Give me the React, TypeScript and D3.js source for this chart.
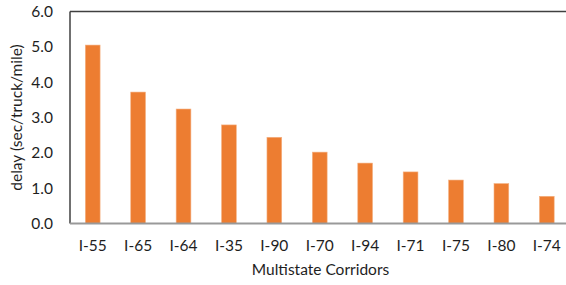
import * as d3 from "d3";
import { useEffect, useRef } from "react";

const corridors = ["I-55", "I-65", "I-64", "I-35", "I-90", "I-70", "I-94", "I-71", "I-75", "I-80", "I-74"];
const delays = [5.05, 3.72, 3.24, 2.79, 2.44, 2.02, 1.71, 1.46, 1.23, 1.13, 0.77];
const yTicks = [0, 1, 2, 3, 4, 5, 6];

export default function App() {
  const ref = useRef<SVGSVGElement | null>(null);

  useEffect(() => {
    if (!ref.current) return;
    const width = 566;
    const height = 285;
    const margin = { top: 11.5, right: -3.5, bottom: 61.5, left: 70 };
    const font = "Lato, sans-serif";
    const fontSize = 15.5;
    const textColor = "#1e1e1e";

    const svg = d3.select(ref.current);
    svg.selectAll("*").remove();

    const x = d3
      .scaleBand()
      .domain(corridors)
      .range([margin.left, width - margin.right])
      .paddingInner(0.675)
      .paddingOuter(0.3375);

    const y = d3
      .scaleLinear()
      .domain([0, 6])
      .range([height - margin.bottom, margin.top]);

    // bars
    svg
      .append("g")
      .selectAll("rect")
      .data(delays)
      .join("rect")
      .attr("x", (_, i) => x(corridors[i])!)
      .attr("y", (d) => y(d))
      .attr("width", x.bandwidth())
      .attr("height", (d) => y(0) - y(d))
      .attr("fill", "#ED7D31")
      .attr("stroke", "#F4B183")
      .attr("stroke-width", 0.6);

    // frame: top + left dark, bottom grey
    svg
      .append("line")
      .attr("x1", margin.left)
      .attr("x2", width)
      .attr("y1", y(6))
      .attr("y2", y(6))
      .attr("stroke", "#404040")
      .attr("stroke-width", 1.5);
    svg
      .append("line")
      .attr("x1", margin.left)
      .attr("x2", margin.left)
      .attr("y1", y(6))
      .attr("y2", y(0))
      .attr("stroke", "#404040")
      .attr("stroke-width", 1.5);
    svg
      .append("line")
      .attr("x1", margin.left)
      .attr("x2", width)
      .attr("y1", y(0))
      .attr("y2", y(0))
      .attr("stroke", "#999999")
      .attr("stroke-width", 2);

    // y tick labels
    svg
      .append("g")
      .selectAll("text")
      .data(yTicks)
      .join("text")
      .attr("x", 53)
      .attr("y", (d) => y(d))
      .attr("dy", "0.35em")
      .attr("text-anchor", "end")
      .attr("font-family", font)
      .attr("font-size", fontSize)
      .attr("fill", textColor)
      .text((d) => d3.format(".1f")(d));

    // x tick labels
    svg
      .append("g")
      .selectAll("text")
      .data(corridors)
      .join("text")
      .attr("x", (d) => x(d)! + x.bandwidth() / 2)
      .attr("y", 246)
      .attr("dy", "0.35em")
      .attr("text-anchor", "middle")
      .attr("font-family", font)
      .attr("font-size", fontSize)
      .attr("fill", textColor)
      .text((d) => d);

    // axis titles
    svg
      .append("text")
      .attr("x", 320.5)
      .attr("y", 270)
      .attr("dy", "0.35em")
      .attr("text-anchor", "middle")
      .attr("font-family", font)
      .attr("font-size", fontSize)
      .attr("fill", textColor)
      .text("Multistate Corridors");

    svg
      .append("text")
      .attr("transform", `translate(17,${(y(0) + y(6)) / 2}) rotate(-90)`)
      .attr("dy", "0.35em")
      .attr("text-anchor", "middle")
      .attr("font-family", font)
      .attr("font-size", fontSize)
      .attr("fill", textColor)
      .text("delay (sec/truck/mile)");
  }, []);

  return (
    <svg
      ref={ref}
      width={566}
      height={285}
      style={{ position: "absolute", left: 0, top: 0, background: "#fff" }}
    ></svg>
  );
}
